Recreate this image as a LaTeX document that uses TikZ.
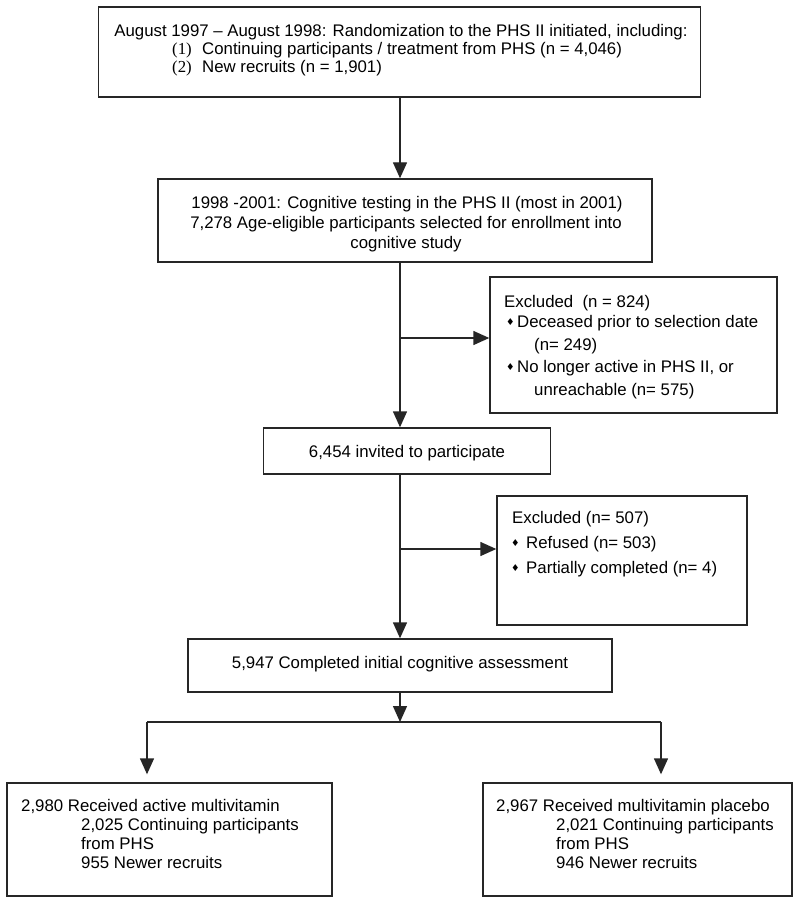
\documentclass[tikz,border=0pt]{standalone}
\usepackage{fontspec}
\setmainfont{Liberation Sans}
\newfontfamily\serifnum{Liberation Serif}
\newfontfamily\dejavu{DejaVu Sans}
\usetikzlibrary{arrows.meta}
\newcommand\dmd{{\dejavu\fontsize{9.5}{9.5}\selectfont\raisebox{1.5pt}{♦}}}
\tikzset{
  box/.style={draw=black!85, line width=1.4pt, fill=white, inner sep=0pt},
  txt/.style={inner sep=0pt, font=\fontsize{16.8}{19}\selectfont, text=black},
  arr/.style={draw=black!85, line width=1.4pt, -{Triangle[length=16pt,width=14pt]}},
  ln/.style={draw=black!85, line width=1.4pt},
}
\begin{document}
\begin{tikzpicture}[x=1pt,y=-1pt]
\useasboundingbox (0,0) rectangle (800,904);
\fill[white] (0,0) rectangle (800,904);
% boxes
\node[box, minimum width=602pt, minimum height=90pt] (b1) at (399.5,52) {};
\node[box, minimum width=494pt, minimum height=83pt] (b2) at (405,220.5) {};
\node[box, minimum width=287pt, minimum height=136pt] (e1) at (633.5,345) {};
\node[box, minimum width=287pt, minimum height=46pt] (b3) at (407,451) {};
\node[box, minimum width=250pt, minimum height=129pt] (e2) at (622,560.5) {};
\node[box, minimum width=424pt, minimum height=53pt] (b4) at (400,665.5) {};
\node[box, minimum width=325pt, minimum height=113pt] (l1) at (169.5,839.5) {};
\node[box, minimum width=309pt, minimum height=113pt] (r1) at (637.5,839.5) {};
% helper coordinates
\coordinate (sx) at (400,0);
\coordinate (br1) at (400,338);
\coordinate (br2) at (400,549);
\coordinate (sp) at (400,722);
\coordinate (spl) at (147,722);
\coordinate (spr) at (661,722);
% box 1 text
\node[txt, anchor=base] (t1a) at (401,37) {August 1997 – August 1998: Randomization to the PHS II initiated, including:};
\node[txt, anchor=base west] (t1b) at (172,55) {\makebox[30pt][l]{\serifnum(1)}Continuing participants / treatment from PHS (n = 4,046)};
\node[txt, anchor=base west] (t1c) at (172,73) {\makebox[30pt][l]{\serifnum(2)}New recruits (n = 1,901)};
% box 2 text
\node[txt, anchor=base] (t2a) at (407,208) {1998 -2001: Cognitive testing in the PHS II (most in 2001)};
\node[txt, anchor=base] (t2b) at (406,228) {7,278 Age-eligible participants selected for enrollment into};
\node[txt, anchor=base] (t2c) at (406,248) {cognitive study};
% excluded 1
\node[txt, anchor=base west] (e1a) at (504,307) {Excluded\ \ (n = 824)};
\node[txt, anchor=base west] (e1b) at (506,327) {\makebox[11pt][l]{\dmd}Deceased prior to selection date};
\node[txt, anchor=base west] (e1c) at (534,350) {(n= 249)};
\node[txt, anchor=base west] (e1d) at (506,372) {\makebox[11pt][l]{\dmd}No longer active in PHS II, or};
\node[txt, anchor=base west] (e1e) at (534,395) {unreachable (n= 575)};
% box 3 text
\node[txt, anchor=base] (t3) at (407,457) {6,454 invited to participate};
% excluded 2
\node[txt, anchor=base west] (e2a) at (512,523) {Excluded (n= 507)};
\node[txt, anchor=base west] (e2b) at (511,548) {\makebox[15pt][l]{\dmd}Refused (n= 503)};
\node[txt, anchor=base west] (e2c) at (511,573) {\makebox[15pt][l]{\dmd}Partially completed (n= 4)};
% box 4 text
\node[txt, anchor=base] (t4) at (400,668) {5,947 Completed initial cognitive assessment};
% bottom left
\node[txt, anchor=base west] (l1a) at (21,811) {2,980 Received active multivitamin};
\node[txt, anchor=base west] (l1b) at (81,830) {2,025 Continuing participants};
\node[txt, anchor=base west] (l1c) at (81,849) {from PHS};
\node[txt, anchor=base west] (l1d) at (81,868) {955 Newer recruits};
% bottom right
\node[txt, anchor=base west] (r1a) at (496,811) {2,967 Received multivitamin placebo};
\node[txt, anchor=base west] (r1b) at (556,830) {2,021 Continuing participants};
\node[txt, anchor=base west] (r1c) at (556,849) {from PHS};
\node[txt, anchor=base west] (r1d) at (556,868) {946 Newer recruits};
% connectors
\draw[arr] (b1.south -| sx) -- (b2.north -| sx);
\draw[arr] (b2.south -| sx) -- (b3.north -| sx);
\draw[arr] (br1) -- (br1 -| e1.west);
\draw[arr] (b3.south -| sx) -- (b4.north -| sx);
\draw[arr] (br2) -- (br2 -| e2.west);
\draw[arr] (b4.south -| sx) -- (sp);
\draw[ln] (spl) -- (spr);
\draw[arr, shorten >=8pt] (spl) -- (spl |- l1.north);
\draw[arr, shorten >=8pt] (spr) -- (spr |- r1.north);
\end{tikzpicture}
\end{document}
